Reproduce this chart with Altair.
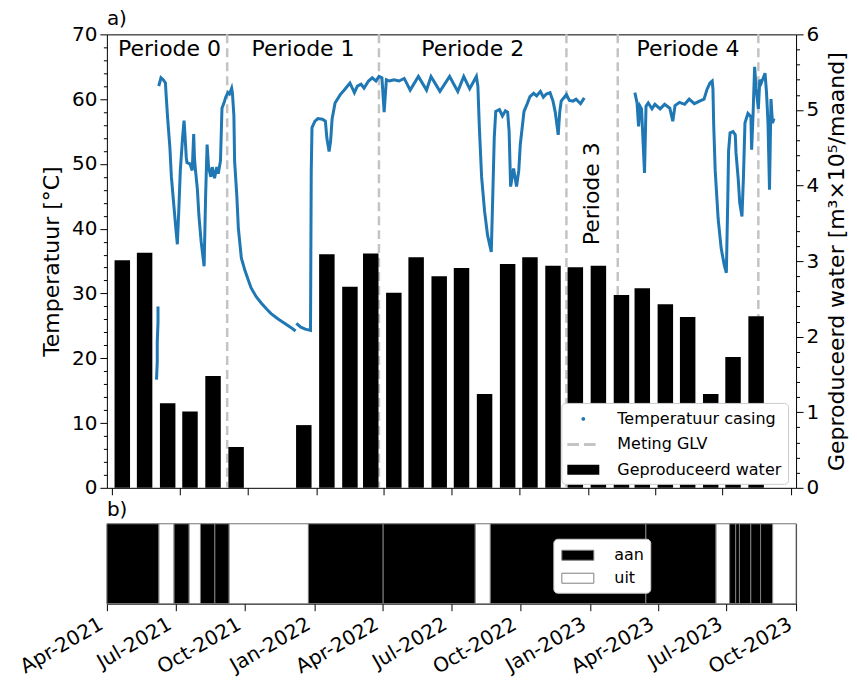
import altair as alt
import pandas as pd

FONT = "DejaVu Sans"

# ---------------- data ----------------
bar_months = ["2021-04-01", "2021-05-01", "2021-06-01", "2021-07-01", "2021-08-01", "2021-09-01",
              "2021-12-01",
              "2022-01-01", "2022-02-01", "2022-03-01", "2022-04-01", "2022-05-01", "2022-06-01",
              "2022-07-01", "2022-08-01", "2022-09-01", "2022-10-01", "2022-11-01", "2022-12-01",
              "2023-01-01", "2023-02-01", "2023-03-01", "2023-04-01", "2023-05-01", "2023-06-01",
              "2023-07-01", "2023-08-01"]
bar_water = [3.01, 3.11, 1.12, 1.01, 1.48, 0.54,
             0.83,
             3.09, 2.66, 3.10, 2.58, 3.05, 2.80,
             2.91, 1.24, 2.96, 3.05, 2.94, 2.92,
             2.94, 2.55, 2.64, 2.43, 2.26, 1.24,
             1.73, 2.27]

glv_dates = ["2021-09-03", "2022-03-26", "2022-12-03", "2023-02-10", "2023-08-18"]

period_labels = ["Periode 0", "Periode 1", "Periode 2", "Periode 3", "Periode 4"]
period_bounds = ["2021-04-01", "2021-09-03", "2022-03-26", "2022-12-03", "2023-02-10", "2023-08-18"]
period_temp_pos = [67.8, 67.8, 67.8, 45.4, 67.8]
period_vertical = [False, False, False, True, False]

t1_dates = ["2021-05-31", "2021-06-01", "2021-06-01", "2021-06-02", "2021-06-02"]
t1_vals = [16.7, 19.5, 22.5, 25.5, 28.0]

t2_dates = ["2021-06-03", "2021-06-06", "2021-06-09", "2021-06-12", "2021-06-13", "2021-06-15",
            "2021-06-18", "2021-06-20", "2021-06-23", "2021-06-26", "2021-06-28", "2021-06-30",
            "2021-07-02", "2021-07-05", "2021-07-07", "2021-07-08", "2021-07-10", "2021-07-11",
            "2021-07-15", "2021-07-18", "2021-07-20", "2021-07-21", "2021-07-22", "2021-07-25",
            "2021-07-27", "2021-07-30", "2021-08-03", "2021-08-05", "2021-08-07", "2021-08-09",
            "2021-08-12", "2021-08-14", "2021-08-17", "2021-08-20", "2021-08-22", "2021-08-25",
            "2021-08-27", "2021-08-30", "2021-09-01", "2021-09-04", "2021-09-06", "2021-09-09",
            "2021-09-10", "2021-09-12", "2021-09-13", "2021-09-16", "2021-09-18", "2021-09-22",
            "2021-09-27", "2021-10-01", "2021-10-05", "2021-10-12", "2021-10-19", "2021-10-26",
            "2021-11-01", "2021-11-10", "2021-11-18", "2021-11-27", "2021-12-04"]
t2_vals = [62.0, 63.3, 63.0, 62.5, 60.5, 57.0,
           52.5, 48.0, 44.0, 40.0, 37.6, 43.0,
           49.0, 54.0, 56.7, 55.0, 51.0, 50.2,
           50.0, 49.0, 54.6, 51.0, 49.5, 46.0,
           42.0, 38.0, 34.2, 45.0, 53.0, 49.5,
           48.0, 49.5, 47.8, 49.5, 48.5, 50.5,
           58.6, 59.5, 60.3, 61.0, 60.8, 61.7,
           61.0, 57.5, 50.4, 45.0, 40.1, 35.5,
           33.5, 32.2, 30.9, 29.5, 28.5, 27.6,
           26.9, 26.1, 25.5, 24.8, 24.2]

t3_dates = ["2021-12-05", "2021-12-11", "2021-12-17", "2021-12-24", "2021-12-25", "2021-12-26",
            "2021-12-30", "2022-01-03", "2022-01-09", "2022-01-13", "2022-01-15", "2022-01-18",
            "2022-01-20", "2022-01-22", "2022-01-26", "2022-02-02", "2022-02-08", "2022-02-15",
            "2022-02-21", "2022-02-25", "2022-03-02", "2022-03-06", "2022-03-12", "2022-03-17",
            "2022-03-22", "2022-03-26", "2022-03-30", "2022-04-02", "2022-04-05", "2022-04-09",
            "2022-04-15", "2022-04-22", "2022-04-29", "2022-05-07", "2022-05-18", "2022-05-29",
            "2022-06-04", "2022-06-16", "2022-06-29", "2022-07-10", "2022-07-18", "2022-07-26",
            "2022-08-04", "2022-08-06", "2022-08-08", "2022-08-11", "2022-08-15", "2022-08-19",
            "2022-08-24", "2022-08-26", "2022-08-28", "2022-08-30", "2022-09-04", "2022-09-08",
            "2022-09-12", "2022-09-15", "2022-09-17", "2022-09-19", "2022-09-23", "2022-09-27",
            "2022-09-30", "2022-10-02", "2022-10-07", "2022-10-11", "2022-10-15", "2022-10-20",
            "2022-10-24", "2022-10-29", "2022-11-02", "2022-11-06", "2022-11-11", "2022-11-15",
            "2022-11-18", "2022-11-22", "2022-11-24", "2022-11-26", "2022-12-03", "2022-12-07",
            "2022-12-12", "2022-12-16", "2022-12-22", "2022-12-27"]
t3_vals = [25.4, 24.8, 24.5, 24.3, 48.9, 55.6,
           56.6, 57.0, 56.9, 56.6, 54.0, 51.9,
           53.5, 56.9, 59.4, 60.7, 61.5, 62.5,
           61.0, 62.0, 62.3, 61.7, 62.8, 63.3,
           62.8, 63.5, 63.3, 58.0, 63.0, 62.8,
           63.0, 62.8, 63.2, 61.4, 63.5, 61.4,
           63.5, 61.2, 63.5, 61.2, 63.5, 61.6,
           63.5, 62.0, 55.6, 48.0, 42.7, 39.0,
           36.4, 45.0, 54.0, 58.1, 58.4, 57.4,
           58.2, 58.0, 55.0, 46.5, 49.3, 46.5,
           49.0, 53.0, 58.1, 59.2, 60.4, 60.9,
           60.5, 61.2, 60.3, 60.8, 61.0, 59.7,
           58.0, 54.5, 58.0, 59.7, 60.7, 59.8,
           59.7, 60.0, 59.3, 60.2]

t4_dates = ["2023-03-05", "2023-03-08", "2023-03-10", "2023-03-12", "2023-03-14", "2023-03-18",
            "2023-03-20", "2023-03-23", "2023-03-28", "2023-04-01", "2023-04-08", "2023-04-14",
            "2023-04-21", "2023-04-25", "2023-04-28", "2023-05-04", "2023-05-11", "2023-05-17",
            "2023-05-24", "2023-05-31", "2023-06-06", "2023-06-10", "2023-06-14", "2023-06-17",
            "2023-06-18", "2023-06-19", "2023-06-21", "2023-06-25", "2023-06-29", "2023-07-03",
            "2023-07-06", "2023-07-08", "2023-07-09", "2023-07-11", "2023-07-15", "2023-07-18",
            "2023-07-19", "2023-07-22", "2023-07-24", "2023-07-27", "2023-07-29", "2023-07-31",
            "2023-08-04", "2023-08-08", "2023-08-09", "2023-08-11", "2023-08-13", "2023-08-15",
            "2023-08-18", "2023-08-20", "2023-08-22", "2023-08-27", "2023-08-29", "2023-08-31",
            "2023-09-02", "2023-09-04", "2023-09-06", "2023-09-08"]
t4_vals = [61.0, 59.4, 55.8, 58.9, 58.5, 48.6,
           58.9, 59.4, 58.5, 59.2, 58.5, 59.2,
           58.6, 56.6, 59.0, 59.5, 59.2, 60.0,
           59.3, 59.7, 60.0, 61.5, 62.5, 62.8,
           61.5, 56.0, 49.0, 41.5, 37.0, 34.5,
           33.2, 45.0, 52.0, 54.8, 55.0, 54.5,
           51.7, 47.6, 44.0, 41.9, 48.0, 56.3,
           57.8, 57.3, 52.2, 57.9, 65.0, 61.7,
           58.5, 63.0, 62.5, 64.0, 61.0, 56.3,
           46.0, 60.0, 56.3, 57.0]

temp_segments = [(t1_dates, t1_vals), (t2_dates, t2_vals), (t3_dates, t3_vals), (t4_dates, t4_vals)]

state_starts = ["2021-04-01", "2021-06-09", "2021-06-29", "2021-07-19", "2021-08-03", "2021-08-22",
                "2021-09-10", "2021-12-24", "2022-04-02", "2022-08-02", "2022-08-22", "2023-03-16",
                "2023-06-17", "2023-07-05", "2023-07-13", "2023-07-18", "2023-08-02", "2023-08-15",
                "2023-08-31"]
state_ends = ["2021-06-09", "2021-06-29", "2021-07-19", "2021-08-03", "2021-08-22", "2021-09-10",
              "2021-12-24", "2022-04-02", "2022-08-02", "2022-08-22", "2023-03-16", "2023-06-17",
              "2023-07-05", "2023-07-13", "2023-07-18", "2023-08-02", "2023-08-15", "2023-08-31",
              "2023-10-01"]
state_labels = ["aan", "uit", "aan", "uit", "aan", "aan",
                "uit", "aan", "aan", "uit", "aan", "aan",
                "uit", "aan", "aan", "aan", "aan", "aan",
                "uit"]

x_tick_months = [(2021, 4), (2021, 7), (2021, 10), (2022, 1), (2022, 4), (2022, 7),
                 (2022, 10), (2023, 1), (2023, 4), (2023, 7), (2023, 10)]

series_names = ["Temperatuur casing", "Meting GLV", "Geproduceerd water"]
series_colors = ["#1f77b4", "#c4c4c4", "black"]

# ---------------- tables ----------------
bars_df = pd.DataFrame({"month": pd.to_datetime(bar_months), "water": bar_water})
bars_df["mid"] = bars_df["month"] + pd.Timedelta(days=14)

glv_df = pd.DataFrame({"date": pd.to_datetime(glv_dates)})

pb = pd.to_datetime(period_bounds)
period_df = pd.DataFrame({
    "label": period_labels,
    "date": [pb[i] + (pb[i + 1] - pb[i]) / 2 for i in range(len(period_labels))],
    "temp": period_temp_pos,
    "vertical": period_vertical,
})

rows = []
for seg, (dd, vv) in enumerate(temp_segments):
    for d, v in zip(dd, vv):
        rows.append({"date": d, "temp": v, "seg": seg})
temp_df = pd.DataFrame(rows)
temp_df["date"] = pd.to_datetime(temp_df["date"])
temp_df["idx"] = range(len(temp_df))

state_df = pd.DataFrame({"start": pd.to_datetime(state_starts), "end": pd.to_datetime(state_ends),
                         "state": state_labels})

legend_df = pd.DataFrame({"series": series_names, "date": [None] * 3, "temp": [None] * 3})

# ---------------- scales / axes ----------------
x_scale = alt.Scale(domain=[alt.DateTime(year=2021, month=4, date=1),
                            alt.DateTime(year=2023, month=10, date=1)])
x_tick_values = [alt.DateTime(year=y, month=m, date=1) for y, m in x_tick_months]

x_axis_top = alt.Axis(values=x_tick_values, labels=False, ticks=True, tickSize=7,
                      domain=False, grid=False, title=None)
x_axis_bottom = alt.Axis(values=x_tick_values, format="%b-%Y", labelAngle=330, labelAlign="right",
                         labelBaseline="top", labelFontSize=20, labelOverlap=False, labelFlush=False,
                         labelOffset=-11, tickSize=7, labelPadding=3, title=None, grid=False,
                         domain=False)

temp_scale = alt.Scale(domain=[0, 70], nice=False)
temp_axis = alt.Axis(orient="left", title="Temperatuur [°C]", values=list(range(0, 71, 2)),
                     labelExpr="datum.value % 10 === 0 ? format(datum.value, 'd') : ''",
                     tickSize={"condition": {"test": "datum.value % 10 === 0", "value": 7}, "value": 3.5},
                     labelFontSize=20, titleFontSize=22, titleFontWeight="normal", labelOverlap=False,
                     grid=False, domain=False, titlePadding=8, labelPadding=3)

water_scale = alt.Scale(domain=[0, 6], nice=False)
water_ticks = [round(i * 0.2, 1) for i in range(31)]
water_test = "abs(datum.value - round(datum.value)) < 0.01"
water_axis = alt.Axis(orient="right", title="Geproduceerd water [m³×10⁵/maand]", values=water_ticks,
                      labelExpr=water_test + " ? format(datum.value, 'd') : ''",
                      tickSize={"condition": {"test": water_test, "value": 7}, "value": 3.5},
                      labelFontSize=20, titleFontSize=22, titleFontWeight="normal", labelOverlap=False,
                      grid=False, domain=False, titleAngle=270, titleBaseline="top", titlePadding=8,
                      labelPadding=3)

# legend symbols (unit = 10 px, symbols 32 px wide)
dot_path = "M-0.19,0A0.19,0.19,0,1,1,0.19,0A0.19,0.19,0,1,1,-0.19,0Z"
dash_path = "M-1.6,-0.15H-0.43V0.15H-1.6Z M0.06,-0.15H1.23V0.15H0.06Z"
box_path = "M-1.6,-0.5H1.6V0.5H-1.6Z"

top_legend = alt.Legend(title=None, orient="none", legendX=455, legendY=369, fillColor="white",
                        strokeColor="#cccccc", cornerRadius=4, padding=6, labelFontSize=16,
                        labelFont=FONT, labelColor="black", symbolSize=400, symbolStrokeWidth=0,
                        symbolOffset=6, rowPadding=7.5, labelOffset=24, labelLimit=400,
                        symbolOpacity=1)

# ---------------- top panel ----------------
rules = alt.Chart(glv_df).mark_rule(color="#c4c4c4", strokeWidth=2.5, strokeDash=[9, 5]).encode(
    x=alt.X("date:T", scale=x_scale, axis=x_axis_top)
)
bars = alt.Chart(bars_df).mark_bar(color="black", width=15.5).encode(
    x=alt.X("mid:T", scale=x_scale, axis=x_axis_top),
    y=alt.Y("water:Q", scale=water_scale, axis=water_axis),
)
water_layer = alt.layer(rules, bars)

temp_line = alt.Chart(temp_df).mark_line(color="#1f77b4", strokeWidth=3).encode(
    x=alt.X("date:T", scale=x_scale, axis=x_axis_top),
    y=alt.Y("temp:Q", scale=temp_scale, axis=temp_axis),
    detail="seg:N",
    order="idx:Q",
)
period_text_h = alt.Chart(period_df).transform_filter("!datum.vertical").mark_text(
    fontSize=22, font=FONT, color="black", baseline="middle", align="center"
).encode(
    x=alt.X("date:T", scale=x_scale, axis=x_axis_top),
    y=alt.Y("temp:Q", scale=temp_scale, axis=temp_axis),
    text="label:N",
)
period_text_v = alt.Chart(period_df).transform_filter("datum.vertical").mark_text(
    fontSize=22, font=FONT, color="black", baseline="middle", align="center", angle=270
).encode(
    x=alt.X("date:T", scale=x_scale, axis=x_axis_top),
    y=alt.Y("temp:Q", scale=temp_scale, axis=temp_axis),
    text="label:N",
)
legend_layer = alt.Chart(legend_df).mark_point(filled=True, opacity=1).encode(
    x=alt.X("date:T", scale=x_scale, axis=x_axis_top),
    y=alt.Y("temp:Q", scale=temp_scale, axis=temp_axis),
    color=alt.Color("series:N", scale=alt.Scale(domain=series_names, range=series_colors),
                    legend=top_legend),
    shape=alt.Shape("series:N", scale=alt.Scale(domain=series_names, range=[dot_path, dash_path, box_path]),
                    legend=top_legend),
)
temp_layer = alt.layer(temp_line, period_text_h, period_text_v, legend_layer)

top = alt.layer(water_layer, temp_layer).resolve_scale(y="independent").properties(
    width=690, height=454,
    title=alt.Title("a)", anchor="start", frame="group", fontSize=20, fontWeight="normal", font=FONT,
                    offset=-5, color="black"),
)

# ---------------- bottom panel ----------------
bottom = alt.Chart(state_df).mark_rect(stroke="#808080", strokeWidth=1).encode(
    x=alt.X("start:T", scale=x_scale, axis=x_axis_bottom),
    x2="end:T",
    color=alt.Color("state:N", scale=alt.Scale(domain=["aan", "uit"], range=["black", "white"]),
                    legend=alt.Legend(title=None, orient="none", legendX=447, legendY=15,
                                      fillColor="white", strokeColor="#cccccc", cornerRadius=4,
                                      padding=6, labelFontSize=16, labelFont=FONT, labelColor="black",
                                      symbolType=box_path, symbolSize=400, symbolStrokeColor="#808080",
                                      symbolStrokeWidth=1, symbolOffset=8, rowPadding=4,
                                      labelOffset=26)),
).properties(
    width=690, height=80,
    title=alt.Title("b)", anchor="start", frame="group", fontSize=20, fontWeight="normal", font=FONT,
                    offset=3, color="black"),
)

chart = alt.vconcat(top, bottom, spacing=1).resolve_scale(
    color="independent", shape="independent"
).properties(
    padding={"left": 8, "top": 0, "right": 0, "bottom": 0}
).configure(font=FONT).configure_view(stroke="black", strokeWidth=1).configure_axis(
    labelFont=FONT, titleFont=FONT, labelColor="black", titleColor="black", tickColor="black"
)

chart.save("out.html", embed_options={"renderer": "svg", "actions": False})
